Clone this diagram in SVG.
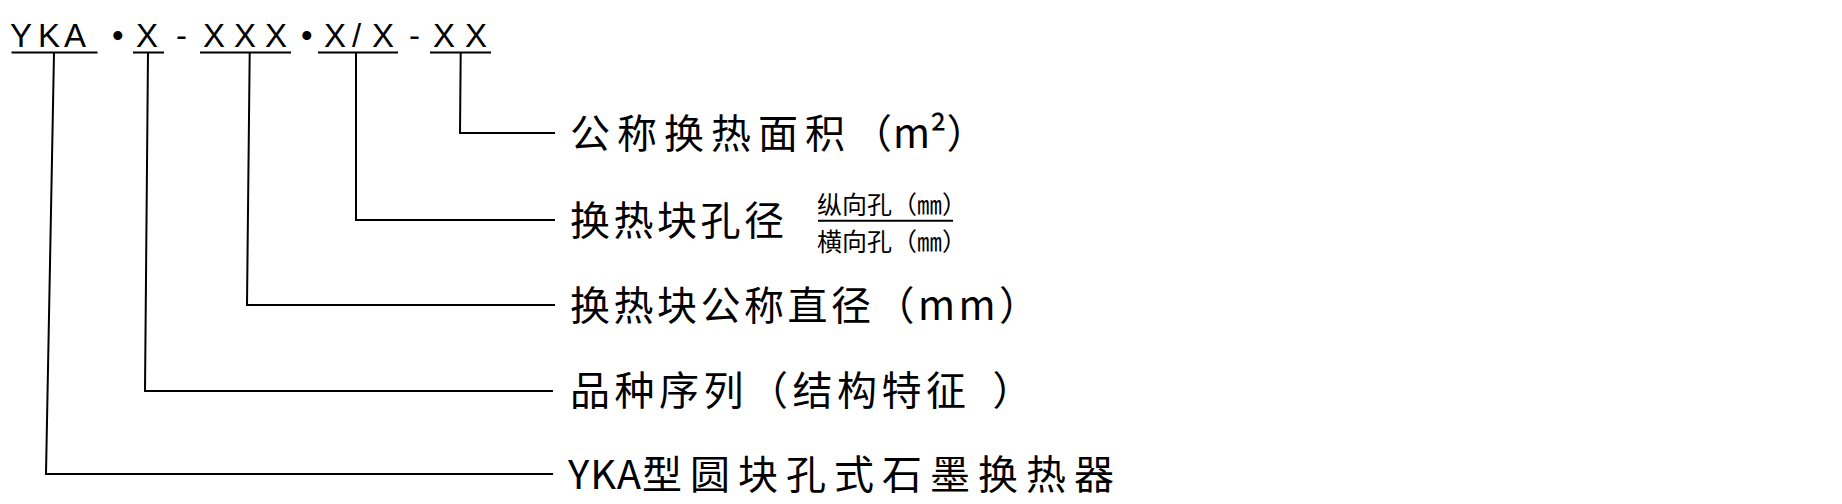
<svg xmlns="http://www.w3.org/2000/svg" width="1842" height="504" viewBox="0 0 1842 504">
<style>
.code{font-family:"Liberation Sans","DejaVu Sans",sans-serif;font-size:33px;fill:#000}
.lbl{font-family:"Noto Sans CJK SC","Noto Sans",sans-serif;font-size:40px;fill:#000}
.sm{font-family:"Noto Sans CJK SC","Noto Sans",sans-serif;font-size:25px;fill:#000}
.ln{fill:none;stroke:#000;stroke-width:2;stroke-linejoin:miter}
</style>
<rect width="1842" height="504" fill="#fff"/>
<g id="code">
<text class="code" y="47" x="10 38 64 112 136 176 203 234 265 301 324 352 372 409 433 465">YKA•X-XXX•X/X-XX</text>
<path class="ln" d="M11.5 52.5H97.5M133 52.5H164M200 52.5H291M318 52.5H398M430 52.5H491"/>
</g>
<g id="connectors">
<path class="ln" d="M460.7 53L460 133H555"/>
<path class="ln" d="M356 53L356 220H555"/>
<path class="ln" d="M249.7 53L247 305H555"/>
<path class="ln" d="M148 53L145 391H553"/>
<path class="ln" d="M54 53L46 474H553"/>
</g>
<g id="n1"><text class="lbl" x="570" y="148"><tspan letter-spacing="7">公称换热面积（</tspan><tspan x="893">m²）</tspan></text></g>
<g id="n2">
<text class="lbl" x="570" y="235" letter-spacing="3.5">换热块孔径</text>
<text class="sm" x="817" y="213.5">纵向孔（㎜）</text>
<path class="ln" d="M818 220.7H953"/>
<text class="sm" x="817" y="251">横向孔（㎜）</text>
</g>
<g id="n3"><text class="lbl" x="570" y="320" letter-spacing="3.5">换热块公称直径（mm）</text></g>
<g id="n4"><text class="lbl" x="570" y="405"><tspan letter-spacing="4.5">品种序列（结构特征</tspan><tspan dx="22">）</tspan></text></g>
<g id="n5"><text class="lbl" x="568" y="489"><tspan letter-spacing="1">YKA</tspan><tspan letter-spacing="8">型圆块孔式石墨换热器</tspan></text></g>
</svg>
